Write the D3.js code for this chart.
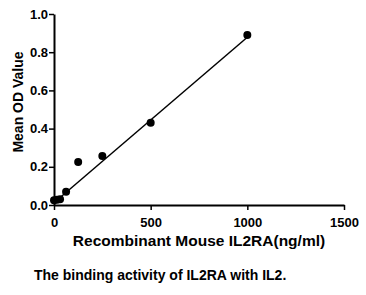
<!DOCTYPE html>
<html>
<head>
<meta charset="utf-8">
<script src="https://cdn.jsdelivr.net/npm/d3@7"></script>
<style>
  body { margin: 0; background: #fff; }
  text { font-family: "Liberation Sans", Arial, sans-serif; font-weight: bold; }
</style>
</head>
<body>
<div id="viz"></div>
<script>
// Data
const concentration = [0, 15.6, 31.25, 62.5, 125, 250, 500, 1000];
const odValue = [0.025, 0.028, 0.03, 0.07, 0.225, 0.257, 0.43, 0.89];
// fitted line end points
const fitX = [0, 1000];
const fitY = [0.012, 0.878];
const xTicks = [0, 500, 1000, 1500];
const yTicks = [0.0, 0.2, 0.4, 0.6, 0.8, 1.0];

const margin = { top: 14, right: 22, bottom: 90, left: 54 };
const width = 366 - margin.left - margin.right;
const height = 295 - margin.top - margin.bottom;

const root = d3.select("#viz")
    .append("svg")
    .attr("width", 366)
    .attr("height", 295);

const svg = root.append("g")
    .attr("transform", `translate(${margin.left},${margin.top})`);

const x = d3.scaleLinear()
    .domain([0, 1500])
    .range([0, width]);

const y = d3.scaleLinear()
    .domain([0, 1])
    .range([height, 0]);

const xAxis = svg.append("g")
    .attr("transform", `translate(0, ${height})`)
    .call(d3.axisBottom(x).tickValues(xTicks).tickSize(5).tickSizeOuter(0).tickFormat(d3.format("d")));

const yAxis = svg.append("g")
    .call(d3.axisLeft(y).tickValues(yTicks).tickSize(5).tickSizeOuter(0).tickFormat(d3.format(".1f")));

[xAxis, yAxis].forEach(a => {
    a.select(".domain").attr("stroke", "#000").attr("stroke-width", 2);
    a.selectAll(".tick line").attr("stroke", "#000").attr("stroke-width", 1.5);
    a.selectAll(".tick text").attr("fill", "#000").style("font-size", "13px");
});
xAxis.selectAll(".tick text").attr("dy", "1.05em");
yAxis.selectAll(".tick text").attr("x", -6);

// fit line
svg.append("line")
    .attr("x1", x(fitX[0]))
    .attr("y1", y(fitY[0]))
    .attr("x2", x(fitX[1]))
    .attr("y2", y(fitY[1]))
    .attr("stroke", "#000")
    .attr("stroke-width", 1.5);

svg.selectAll("circle")
    .data(concentration)
    .enter()
    .append("circle")
    .attr("cx", d => x(d))
    .attr("cy", (d, i) => y(odValue[i]))
    .attr("r", 4)
    .attr("fill", "#000");

// axis titles
root.append("text")
    .attr("transform", "translate(23, 102) rotate(-90)")
    .attr("text-anchor", "middle")
    .style("font-size", "14px")
    .text("Mean OD Value");

svg.append("text")
    .attr("x", width / 2)
    .attr("y", height + 41)
    .attr("text-anchor", "middle")
    .style("font-size", "15.5px")
    .text("Recombinant Mouse IL2RA(ng/ml)");

root.append("text")
    .attr("x", 34)
    .attr("y", 280)
    .style("font-size", "14px")
    .text("The binding activity of IL2RA with IL2.");
</script>
</body>
</html>
